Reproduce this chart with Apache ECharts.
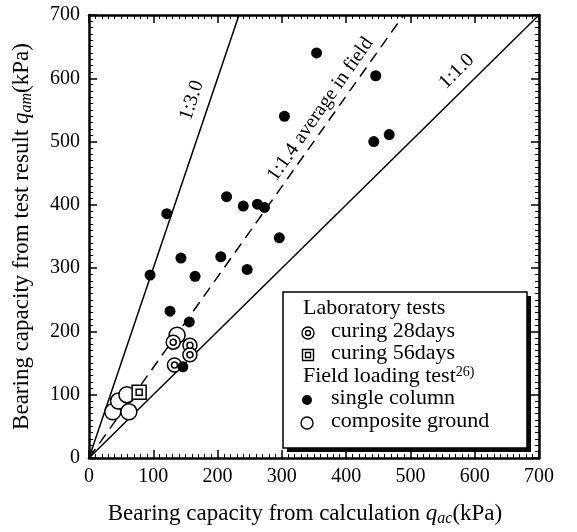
<!DOCTYPE html>
<html>
<head>
<meta charset="utf-8">
<script src="https://cdn.jsdelivr.net/npm/echarts@6/dist/echarts.min.js"></script>
<style>
  html, body { margin: 0; padding: 0; background: #fff; }
  #chart { width: 577px; height: 532px; }
</style>
</head>
<body>
<div id="chart"></div>
<script>
// values (kPa): [q_ac, q_am]
var singleColumn = [[95, 289], [121, 386], [126, 232], [143, 316], [146, 144], [156, 215],
    [165, 287], [205, 318], [214, 413], [240, 398], [246, 298], [262, 401], [273, 396],
    [296, 348], [304, 540], [354, 640], [443, 500], [446, 604], [467, 511]];
var compositeGround = [[37, 73], [46, 90], [59, 100], [62, 73], [137, 194]];
var curing28 = [[131, 183], [133, 147], [157, 178], [157, 163]];
var curing56 = [[78, 104]];

// ratio lines q_ac : q_am
var ratioNames = ["1:3.0", "1:1.4 average in field", "1:1.0"];
var ratioSlopes = [3.0, 1.43, 1.0];
var ratioLabelAt = [[160, 565], [360, 551], [572, 611]];

var axisMax = 700;
var axisStep = 100;

var serif = "'Liberation Serif', 'Times New Roman', serif";

var myChart = echarts.init(document.getElementById("chart"));

function ratioLine(i) {
    var s = ratioSlopes[i];
    var end = s >= 1 ? [axisMax / s, axisMax] : [axisMax, axisMax * s];
    return {
        type: "line",
        data: [[0, 0], end],
        symbol: "none",
        silent: true,
        lineStyle: { color: "#000", width: 1.5, opacity: 1, type: i === 1 ? [11, 7] : "solid" },
        z: 1
    };
}

function ratioLabel(i) {
    var angle = Math.atan(ratioSlopes[i]) * 180 / Math.PI;
    return {
        type: "scatter",
        data: [ratioLabelAt[i]],
        symbolSize: 0,
        silent: true,
        itemStyle: { opacity: 1 },
        label: {
            show: true,
            position: "inside",
            formatter: ratioNames[i],
            rotate: angle,
            color: "#000",
            fontFamily: serif,
            fontSize: 20
        }
    };
}

var openStyle = { color: "#fff", borderColor: "#000", borderWidth: 1.5, opacity: 1 };

function axisCommon(pos, showLabel) {
    return {
        type: "value",
        position: pos,
        min: 0,
        max: axisMax,
        interval: axisStep,
        axisLine: { show: true, onZero: false, lineStyle: { color: "#000", width: 2.5 } },
        axisTick: { show: true, inside: true, length: 8, lineStyle: { color: "#000", width: 1.5 } },
        minorTick: { show: true, splitNumber: 10, length: 4, lineStyle: { color: "#000", width: 1 } },
        splitLine: { show: false },
        axisLabel: { show: showLabel, color: "#000", fontFamily: serif, fontSize: 20, margin: 9 }
    };
}

var titleRich = {
    n: { fontFamily: serif, fontSize: 23, color: "#000", lineHeight: 26 },
    q: { fontFamily: serif, fontSize: 23, fontStyle: "italic", color: "#000", lineHeight: 26 },
    s: { fontFamily: serif, fontSize: 16, fontStyle: "italic", color: "#000", lineHeight: 26, padding: [10, 0, 0, 0] }
};

var xBottom = axisCommon("bottom", true);
xBottom.name = "{n|Bearing capacity from calculation }{q|q}{s|ac}{n|(kPa)}";
xBottom.nameLocation = "middle";
xBottom.nameGap = 43;
xBottom.nameTextStyle = { rich: titleRich, padding: [0, 18, 0, 0] };

var yLeft = axisCommon("left", true);
yLeft.name = "{n|Bearing capacity from test result }{q|q}{s|am}{n|(kPa)}";
yLeft.nameLocation = "middle";
yLeft.nameGap = 54;
yLeft.nameTextStyle = { rich: titleRich };

var legendX = 283, legendY = 292, legendW = 244, legendH = 156;
var rowY = [310, 333, 355, 378, 400, 423];
function legendText(x, y, txt) {
    return {
        type: "text", left: x, top: y - 13,
        style: {
            text: txt, fill: "#000", font: "22px " + serif,
            rich: { sup: { fontFamily: serif, fontSize: 14, fill: "#000", padding: [0, 0, 9, 0] } }
        }
    };
}

var graphics = [
    { type: "rect", shape: { x: legendX + 4, y: legendY + 4, width: legendW, height: legendH }, style: { fill: "#000" } },
    { type: "rect", shape: { x: legendX, y: legendY, width: legendW, height: legendH }, style: { fill: "#fff", stroke: "#000", lineWidth: 1.5 } },
    legendText(303, rowY[0], "Laboratory tests"),
    { type: "circle", shape: { cx: 308, cy: rowY[1], r: 6 }, style: { fill: "#fff", stroke: "#000", lineWidth: 1.4 } },
    { type: "circle", shape: { cx: 308, cy: rowY[1], r: 2.5 }, style: { fill: "#fff", stroke: "#000", lineWidth: 1.4 } },
    legendText(331, rowY[1], "curing 28days"),
    { type: "rect", shape: { x: 302.5, y: rowY[2] - 5.5, width: 11, height: 11 }, style: { fill: "#fff", stroke: "#000", lineWidth: 1.4 } },
    { type: "rect", shape: { x: 305.5, y: rowY[2] - 2.5, width: 5, height: 5 }, style: { fill: "#fff", stroke: "#000", lineWidth: 1.4 } },
    legendText(331, rowY[2], "curing 56days"),
    legendText(303, rowY[3], "Field loading test{sup|26)}"),
    { type: "circle", shape: { cx: 307, cy: rowY[4], r: 5 }, style: { fill: "#000" } },
    legendText(331, rowY[4], "single column"),
    { type: "circle", shape: { cx: 307, cy: rowY[5], r: 6 }, style: { fill: "#fff", stroke: "#000", lineWidth: 1.4 } },
    legendText(331, rowY[5], "composite ground")
];

var series = [ratioLine(0), ratioLine(1), ratioLine(2),
    ratioLabel(0), ratioLabel(1), ratioLabel(2),
    { name: "composite ground", type: "scatter", data: compositeGround, symbol: "circle", symbolSize: 16, itemStyle: openStyle, z: 3 },
    { name: "curing 28days", type: "scatter", data: curing28, symbol: "circle", symbolSize: 14, itemStyle: openStyle, z: 4 },
    { name: "curing 28days inner", type: "scatter", data: curing28, symbol: "circle", symbolSize: 6, itemStyle: openStyle, z: 5 },
    { name: "curing 56days", type: "scatter", data: curing56, symbol: "rect", symbolSize: 14, itemStyle: openStyle, z: 4 },
    { name: "curing 56days inner", type: "scatter", data: curing56, symbol: "rect", symbolSize: 6, itemStyle: openStyle, z: 5 },
    { name: "single column", type: "scatter", data: singleColumn, symbol: "circle", symbolSize: 11, itemStyle: { color: "#000", opacity: 1 }, z: 6 }
];

myChart.setOption({
    animation: false,
    backgroundColor: "#fff",
    grid: { left: 89, top: 15, right: 38, bottom: 67, containLabel: false },
    xAxis: [xBottom, axisCommon("top", false)],
    yAxis: [yLeft, axisCommon("right", false)],
    series: series,
    graphic: graphics
});
</script>
</body>
</html>
